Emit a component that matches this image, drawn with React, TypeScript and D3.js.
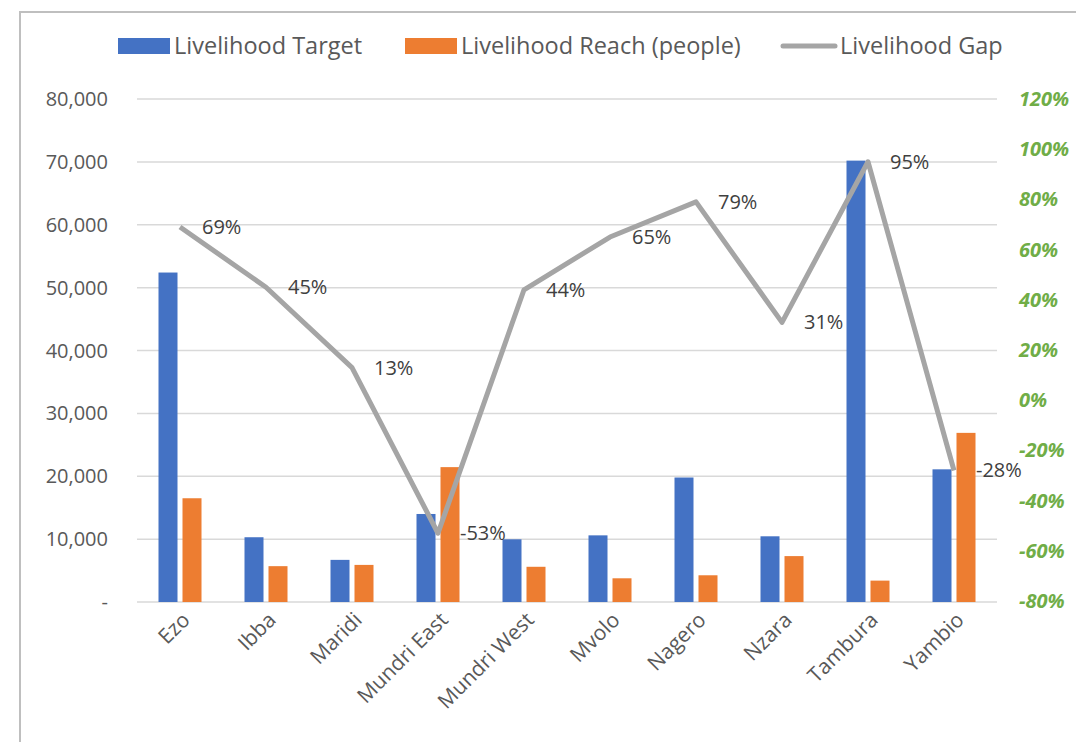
import { useEffect, useRef } from 'react';
import * as d3 from 'd3';

const counties = ['Ezo', 'Ibba', 'Maridi', 'Mundri East', 'Mundri West', 'Mvolo', 'Nagero', 'Nzara', 'Tambura', 'Yambio'];
const target = [52400, 10300, 6700, 14000, 9970, 10600, 19800, 10450, 70200, 21100];
const reach = [16500, 5700, 5900, 21450, 5600, 3770, 4250, 7300, 3400, 26900];
const gap = [0.69, 0.45, 0.13, -0.53, 0.44, 0.65, 0.79, 0.31, 0.95, -0.28];
const leftTicks = [0, 10000, 20000, 30000, 40000, 50000, 60000, 70000, 80000];
const rightTicks = [-0.8, -0.6, -0.4, -0.2, 0, 0.2, 0.4, 0.6, 0.8, 1.0, 1.2];

const FONT = '"Open Sans", "Noto Sans", sans-serif';

const App = () => {
    const svgRef = useRef<SVGSVGElement>(null);

    useEffect(() => {
        document.body.style.margin = '0';
        const svg = d3.select(svgRef.current);
        svg.selectAll('*').remove();

        const left = 137, right = 997, top = 99, bottom = 602;

        // frame
        svg.append('path')
            .attr('d', `M20,742 L20,12 L1076,12`)
            .attr('fill', 'none')
            .attr('stroke', '#BFBFBF')
            .attr('stroke-width', 2);

        const x = d3.scaleBand<string>().domain(counties).range([left, right]);
        const y = d3.scaleLinear().domain([0, 80000]).range([bottom, top]);
        const y2 = d3.scaleLinear().domain([-0.8, 1.2]).range([bottom - 1, top]);

        // gridlines
        svg.append('g')
            .selectAll('line')
            .data(leftTicks)
            .enter().append('line')
            .attr('x1', left).attr('x2', right)
            .attr('y1', d => y(d)).attr('y2', d => y(d))
            .attr('stroke', '#D9D9D9')
            .attr('stroke-width', 1.5);

        // left axis labels
        svg.append('g')
            .selectAll('text')
            .data(leftTicks)
            .enter().append('text')
            .attr('x', 108)
            .attr('y', d => y(d))
            .attr('dy', '0.35em')
            .attr('text-anchor', 'end')
            .style('font-family', FONT)
            .style('font-size', '20px')
            .style('fill', '#595959')
            .text(d => (d === 0 ? '-' : d3.format(',')(d)));

        // right axis labels
        svg.append('g')
            .selectAll('text')
            .data(rightTicks)
            .enter().append('text')
            .attr('x', 1019)
            .attr('y', d => y2(d))
            .attr('dy', '0.35em')
            .attr('text-anchor', 'start')
            .style('font-family', FONT)
            .style('font-size', '20px')
            .style('font-weight', 'bold')
            .style('font-style', 'italic')
            .style('fill', '#70AD47')
            .text(d => `${Math.round(d * 100)}%`);

        // bars
        const barW = 19;
        const bars = svg.append('g');
        bars.selectAll('.target')
            .data(counties)
            .enter().append('rect')
            .attr('x', d => (x(d) as number) + x.bandwidth() / 2 - barW - 2.5)
            .attr('y', (d, i) => y(target[i]))
            .attr('width', barW)
            .attr('height', (d, i) => bottom - y(target[i]))
            .attr('fill', '#4472C4');
        bars.selectAll('.reach')
            .data(counties)
            .enter().append('rect')
            .attr('x', d => (x(d) as number) + x.bandwidth() / 2 + 2.5)
            .attr('y', (d, i) => y(reach[i]))
            .attr('width', barW)
            .attr('height', (d, i) => bottom - y(reach[i]))
            .attr('fill', '#ED7D31');

        // gap line
        const cx = (d: string) => (x(d) as number) + x.bandwidth() / 2;
        const line = d3.line<number>()
            .x((d, i) => cx(counties[i]))
            .y(d => y2(d));
        svg.append('path')
            .datum(gap)
            .attr('fill', 'none')
            .attr('stroke', '#A5A5A5')
            .attr('stroke-width', 5)
            .attr('stroke-linejoin', 'round')
            .attr('d', line);

        // data labels
        svg.append('g')
            .selectAll('text')
            .data(gap)
            .enter().append('text')
            .attr('x', (d, i) => cx(counties[i]) + 22)
            .attr('y', d => y2(d))
            .attr('dy', '0.35em')
            .style('font-family', FONT)
            .style('font-size', '20px')
            .style('fill', '#404040')
            .text(d => `${Math.round(d * 100)}%`);

        // x labels
        svg.append('g')
            .selectAll('text')
            .data(counties)
            .enter().append('text')
            .attr('transform', d => `translate(${cx(d) + 6},${bottom + 14}) rotate(-45)`)
            .attr('text-anchor', 'end')
            .attr('dy', '0.35em')
            .style('font-family', FONT)
            .style('font-size', '21px')
            .style('fill', '#595959')
            .text(d => d);

        // legend
        const legendItems = [
            { label: 'Livelihood Target', color: '#4472C4', type: 'rect', x: 118 },
            { label: 'Livelihood Reach (people)', color: '#ED7D31', type: 'rect', x: 405 },
            { label: 'Livelihood Gap', color: '#A5A5A5', type: 'line', x: 781 },
        ];
        const legend = svg.selectAll('.legend')
            .data(legendItems)
            .enter().append('g')
            .attr('class', 'legend')
            .attr('transform', d => `translate(${d.x},46)`);
        legend.filter(d => d.type === 'rect').append('rect')
            .attr('x', 0).attr('y', -8)
            .attr('width', 52).attr('height', 16)
            .attr('fill', d => d.color);
        legend.filter(d => d.type === 'line').append('line')
            .attr('x1', 2).attr('x2', 54)
            .attr('y1', 0).attr('y2', 0)
            .attr('stroke', d => d.color)
            .attr('stroke-width', 5)
            .attr('stroke-linecap', 'round');
        legend.append('text')
            .attr('x', d => (d.type === 'line' ? 59 : 56))
            .attr('y', 0)
            .attr('dy', '0.35em')
            .style('font-family', FONT)
            .style('font-size', '23.5px')
            .style('fill', '#595959')
            .text(d => d.label);
    }, []);

    return (
        <svg ref={svgRef} width={1076} height={742} style={{ display: 'block' }}></svg>
    );
};

export default App;
